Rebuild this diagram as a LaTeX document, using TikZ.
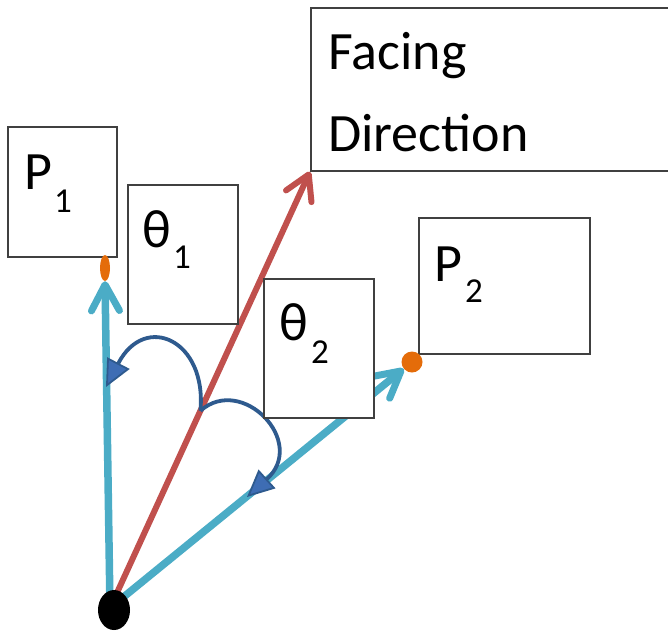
\documentclass[tikz,border=0pt]{standalone}
\usepackage{fontspec}
\setmainfont{Carlito}
\usetikzlibrary{arrows.meta,shapes.geometric,calc,backgrounds}
\definecolor{cyanL}{HTML}{4BACC6}
\definecolor{redL}{HTML}{C0504D}
\definecolor{arcC}{HTML}{2E5A8E}
\definecolor{arcF}{HTML}{3E6DB4}
\definecolor{orangeD}{HTML}{E46C0A}
\definecolor{boxC}{HTML}{404040}
\begin{document}
\begin{tikzpicture}[x=1pt,y=-1pt,
  boxst/.style={draw=boxC, line width=1.7pt, fill=white, rectangle, inner sep=0pt, anchor=north west},
  big/.style={font=\fontsize{54}{64}\selectfont, inner sep=0pt, anchor=base west},
  subst/.style={font=\fontsize{35}{42}\selectfont, inner sep=0pt, anchor=base west},
  ray/.style={line width=7.5pt, cyanL, -{Straight Barb[length=26pt,width=28pt,round,line width=7pt]}},
  facing/.style={line width=6pt, redL, -{Straight Barb[length=24pt,width=28pt,round,line width=6pt]}},
  arcst/.style={line width=3.8pt, arcC, -{Triangle[length=27pt,width=25pt,fill=arcF,line width=1.8pt]}}
]
\clip (0,0) rectangle (668,633);
\useasboundingbox (0,0) rectangle (668,633);

% boxes
\node[boxst, minimum width=109pt, minimum height=130pt] (p1box) at (7,126) {};
\node[boxst, minimum width=110pt, minimum height=139pt] (t1box) at (127,184) {};
\node[boxst, minimum width=110pt, minimum height=139pt] (t2box) at (263,278) {};
\node[boxst, minimum width=171pt, minimum height=136pt] (p2box) at (418,217) {};
\node[boxst, minimum width=380pt, minimum height=163pt] (face) at (310,7) {};

% texts
\node[big] (tF) at (328,69) {Facing};
\node[big] (tD) at (328,151) {Direction};
\node[big] (tP1) at (24,189) {P};
\node[subst] (tP1s) at (54,212) {1};
\node[big] (tT1) at (142,247) {θ};
\node[subst] (tT1s) at (173,268) {1};
\node[big] (tT2) at (279,340) {θ};
\node[subst] (tT2s) at (311,363) {2};
\node[big] (tP2) at (434,281) {P};
\node[subst] (tP2s) at (465,302) {2};

% dots
\node[ellipse, fill=black, minimum width=32pt, minimum height=40pt, inner sep=0pt] (O) at (114,610) {};
\node[ellipse, fill=orangeD, minimum width=10pt, minimum height=26pt, inner sep=0pt] (d1) at (105,268) {};
\node[circle, fill=orangeD, minimum size=21pt, inner sep=0pt] (d2) at (412,362) {};

\coordinate (src) at (110,608);
\coordinate (a1end) at (106,387);
\coordinate (a2end) at (247,497);

\begin{scope}[on background layer]
  \draw[ray] (src) -- (d1.south);
  \draw[ray] (src) -- (d2);
  \draw[facing] (src) -- (face.south west);
  \coordinate (R) at ($(src)!0.452!(face.south west)$);
  \draw[arcst] (R) .. controls (207,340) and (145,312) .. (a1end);
  \draw[arcst] (R) .. controls (242,374) and (308,442) .. (a2end);
\end{scope}
\end{tikzpicture}
\end{document}
